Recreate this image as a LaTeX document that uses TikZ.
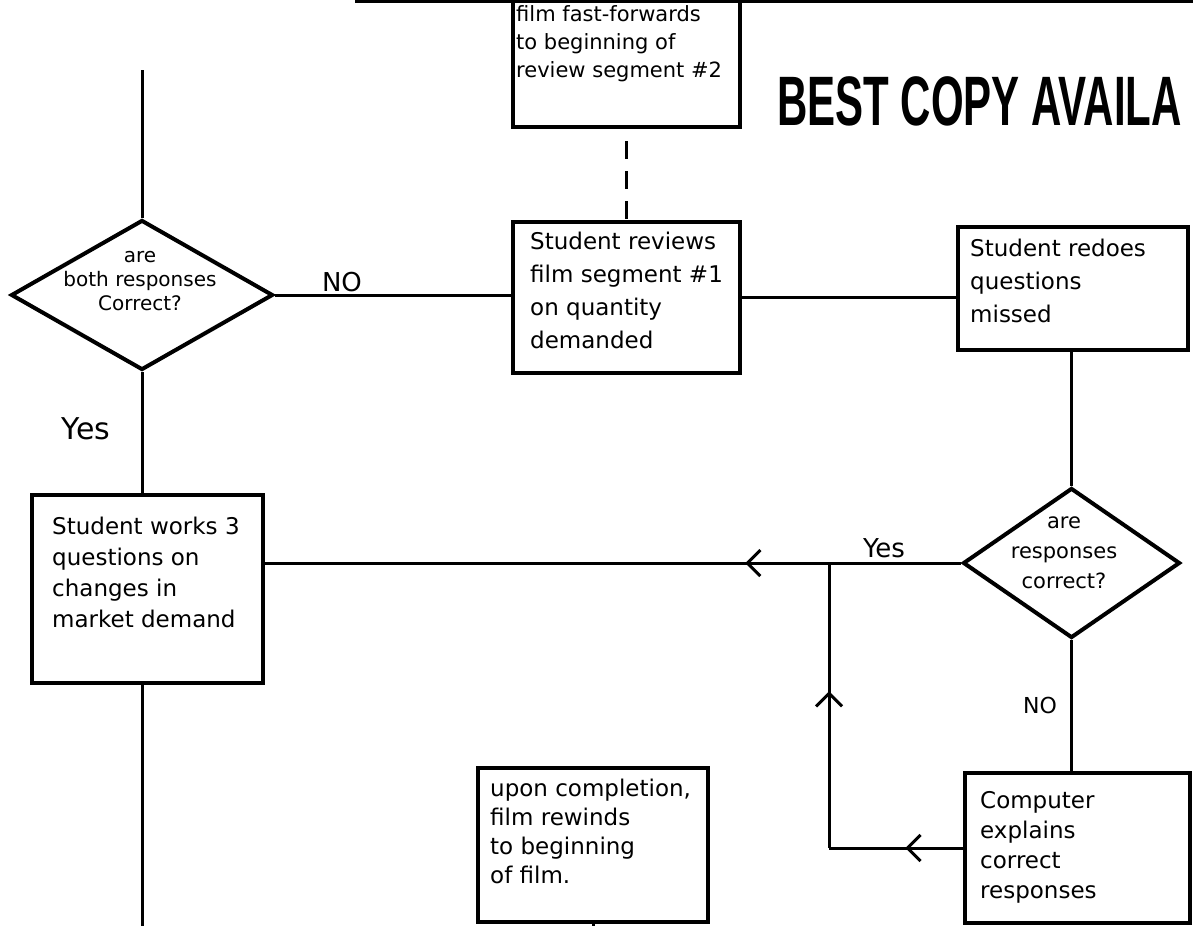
\documentclass[tikz,border=0pt]{standalone}
\usepackage{fontspec}
\newfontfamily\handfont{DejaVu Sans}
\newfontfamily\bestfont{Liberation Sans}[FakeStretch=0.6]
\usetikzlibrary{arrows.meta,decorations.markings,shapes.geometric}
\tikzset{
  boxn/.style={draw, line width=4pt, rectangle, inner sep=0pt},
  decision/.style={draw, line width=4pt, diamond, inner sep=0pt},
  conn/.style={line width=3pt},
  handtext/.style={font=\handfont\fontsize{23}{#1}\selectfont, align=left, anchor=north west, inner sep=0pt},
  dtext/.style={font=\handfont\fontsize{20}{#1}\selectfont, align=center, inner sep=0pt},
  lbl/.style={font=\handfont\fontsize{#1}{#1}\selectfont, inner sep=0pt},
  midarrow/.style={postaction={decorate}, decoration={markings,
     mark=at position #1 with {\arrow[line width=3pt]{Straight Barb[length=13pt,width=26pt]}}}}
}
\begin{document}
\begin{tikzpicture}[x=1pt,y=-1pt]
\useasboundingbox (0,0) rectangle (1193,926);
\fill[white] (0,0) rectangle (1193,926);

% page edge line at top
\coordinate (edgeL) at (355,1.5);
\coordinate (edgeR) at (1193,1.5);
\draw[line width=3pt] (edgeL) -- (edgeR);

% boxes
\node[boxn, minimum width=227pt, minimum height=126pt] (T) at (626.5,64) {};
\node[boxn, minimum width=227pt, minimum height=151pt] (R) at (626.5,297.5) {};
\node[boxn, minimum width=230pt, minimum height=123pt] (D) at (1073,288.5) {};
\node[boxn, minimum width=231pt, minimum height=188pt] (W) at (147.5,589) {};
\node[boxn, minimum width=225pt, minimum height=150pt] (C) at (1077.5,848) {};
\node[boxn, minimum width=230pt, minimum height=154pt] (U) at (593,845) {};

% decisions
\node[decision, minimum width=262pt, minimum height=150pt] (Q1) at (142,295) {};
\node[decision, minimum width=217pt, minimum height=150pt] (Q2) at (1071.5,563) {};

% box texts
\node[handtext=28, font=\handfont\fontsize{21}{28}\selectfont] (Tt) at (516,5) {film fast-forwards\\to beginning of\\review segment \#2};
\node[handtext=33] (Rt) at (530,232) {Student reviews\\film segment \#1\\on quantity\\demanded};
\node[handtext=33] (Dt) at (970,239) {Student redoes\\questions\\missed};
\node[handtext=31] (Wt) at (52,517) {Student works 3\\questions on\\changes in\\market demand};
\node[handtext=30] (Ct) at (980,791) {Computer\\explains\\correct\\responses};
\node[handtext=29] (Ut) at (490,779) {upon completion,\\film rewinds\\to beginning\\of film.};

% decision texts
\node[dtext=24] (Q1t) at (140,281) {are\\both responses\\Correct?};
\node[dtext=30, font=\handfont\fontsize{21}{30}\selectfont] (Q2t) at (1064,553) {are\\responses\\correct?};

% BEST COPY banner
\node[font=\bestfont\bfseries\fontsize{70}{70}\selectfont, anchor=base west, inner sep=0pt] (best) at (777,125) {BEST COPY AVAILA};

% connectors
\coordinate (topstub) at (142,70);
\coordinate (botleft) at (142,926);
\coordinate (K) at (829,848);
\coordinate (J) at (829,563);
\coordinate (Ubot) at (593,926);

\draw[conn] (topstub) -- (Q1.north);
\draw[conn] (Q1.south) -- (Q1.south |- W.north);
\draw[conn] (Q1.south |- W.south) -- (botleft);
\draw[conn] (Q1.east) -- (Q1.east -| R.west);
\draw[conn] (R.east) -- (R.east -| D.west);
\draw[conn, dash pattern=on 18pt off 12pt, dash phase=18pt] (T.south) -- (R.north);
\draw[conn] (Q2.north |- D.south) -- (Q2.north);
\draw[conn, midarrow=0.31] (Q2.west) -- (Q2.west -| W.east);
\draw[conn] (Q2.south) -- (Q2.south |- C.north);
\draw[conn, midarrow=0.43] (C.west) -- (K);
\draw[conn, midarrow=0.55] (K) -- (J);
\draw[conn] (U.south) -- (Ubot);

% labels
\node[lbl=26] (no1) at (342,282) {NO};
\node[lbl=30] (yes1) at (86,429) {Yes};
\node[lbl=26] (yes2) at (884,548) {Yes};
\node[lbl=22] (no2) at (1040,705) {NO};
\end{tikzpicture}
\end{document}
